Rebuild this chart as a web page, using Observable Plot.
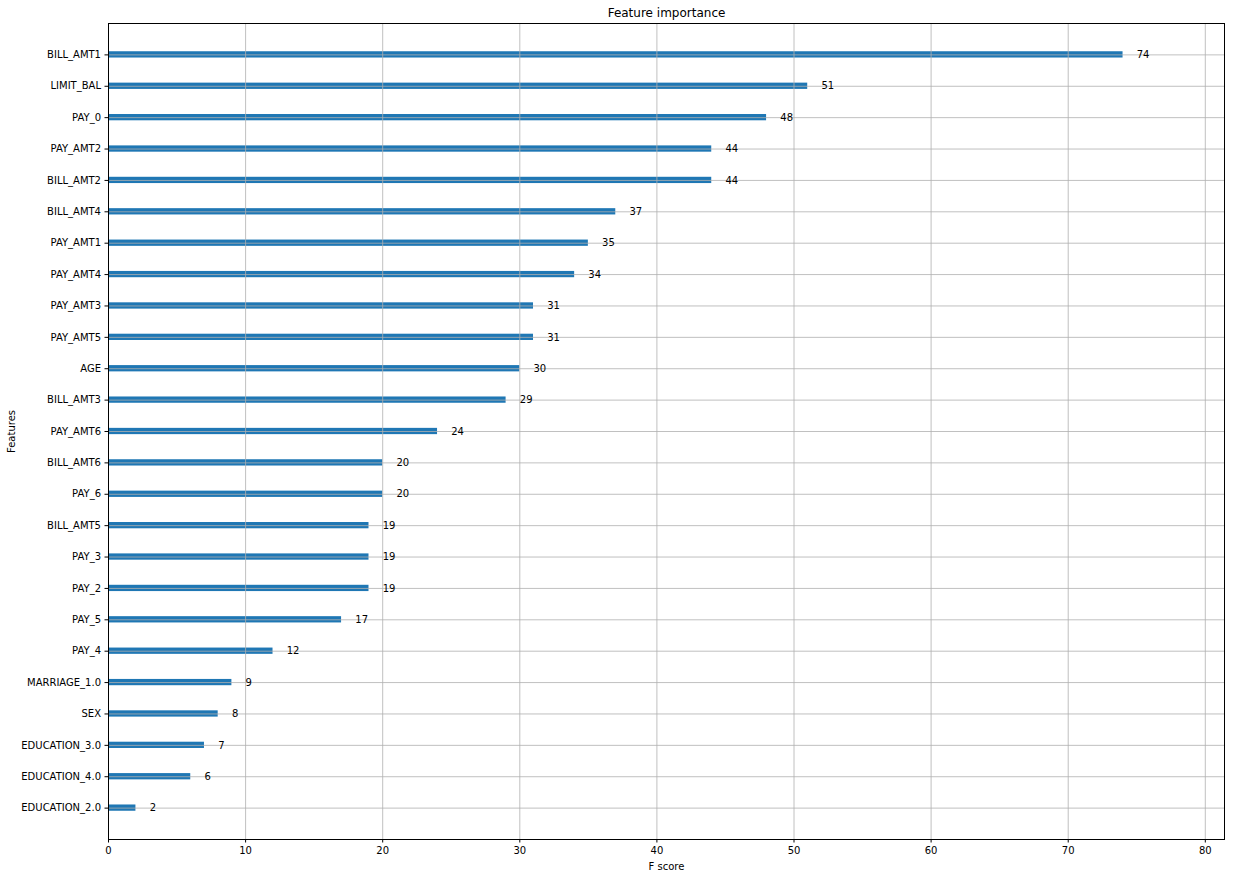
<!DOCTYPE html>
<html>
<head>
<meta charset="utf-8">
<script src="https://cdn.jsdelivr.net/npm/d3@7"></script>
<script src="https://cdn.jsdelivr.net/npm/@observablehq/plot@0.6"></script>
<style>
  html, body { margin: 0; padding: 0; background: #fff; }
  #chart { width: 1235px; height: 876px; }
</style>
</head>
<body>
<div id="chart"></div>
<script>
const features = [
  "BILL_AMT1", "LIMIT_BAL", "PAY_0", "PAY_AMT2", "BILL_AMT2", "BILL_AMT4",
  "PAY_AMT1", "PAY_AMT4", "PAY_AMT3", "PAY_AMT5", "AGE", "BILL_AMT3",
  "PAY_AMT6", "BILL_AMT6", "PAY_6", "BILL_AMT5", "PAY_3", "PAY_2", "PAY_5",
  "PAY_4", "MARRIAGE_1.0", "SEX", "EDUCATION_3.0", "EDUCATION_4.0", "EDUCATION_2.0"
];
const scores = [74, 51, 48, 44, 44, 37, 35, 34, 31, 31, 30, 29, 24, 20, 20, 19, 19, 19, 17, 12, 9, 8, 7, 6, 2];
const xTicks = [0, 10, 20, 30, 40, 50, 60, 70, 80];
const titleText = "Feature importance";
const xLabel = "F score";
const yLabel = "Features";

const data = features.map((f, i) => ({feature: f, i, v: scores[i]}));
const idx = d3.range(features.length);
const xMax = d3.max(scores) * 1.1;

const chart = Plot.plot({
  width: 1235,
  height: 876,
  marginLeft: 108,
  marginRight: 11,
  marginTop: 23,
  marginBottom: 37,
  style: {fontFamily: "DejaVu Sans, sans-serif", fontSize: "10px", color: "#000", background: "#fff"},
  x: {domain: [0, xMax]},
  y: {domain: [features.length, -1]},
  marks: [
    Plot.rect(data, {x1: 0, x2: "v", y1: d => d.i - 0.1, y2: d => d.i + 0.1, fill: "#1f77b4"}),
    Plot.gridX(xTicks, {stroke: "#b0b0b0", strokeOpacity: 1, strokeWidth: 0.8}),
    Plot.gridY(idx, {stroke: "#b0b0b0", strokeOpacity: 1, strokeWidth: 0.8}),
    Plot.text(data, {x: d => d.v + 1, y: "i", text: d => String(d.v), textAnchor: "start", fill: "#000", fontSize: 10}),
    Plot.axisX(xTicks, {tickSize: 3.5, tickPadding: 4, stroke: "#000", label: xLabel, labelAnchor: "center", labelArrow: "none", labelOffset: 30}),
    Plot.axisY(idx, {tickSize: 3.5, tickPadding: 4, stroke: "#000", tickFormat: i => features[i], label: yLabel, labelAnchor: "center", labelArrow: "none", labelOffset: 101}),
    Plot.frame({stroke: "#000", strokeWidth: 1}),
    Plot.text([titleText], {frameAnchor: "top", text: d => d, dy: -10, fontSize: 12, fill: "#000", lineAnchor: "middle"})
  ]
});
document.getElementById("chart").appendChild(chart);
</script>
</body>
</html>
